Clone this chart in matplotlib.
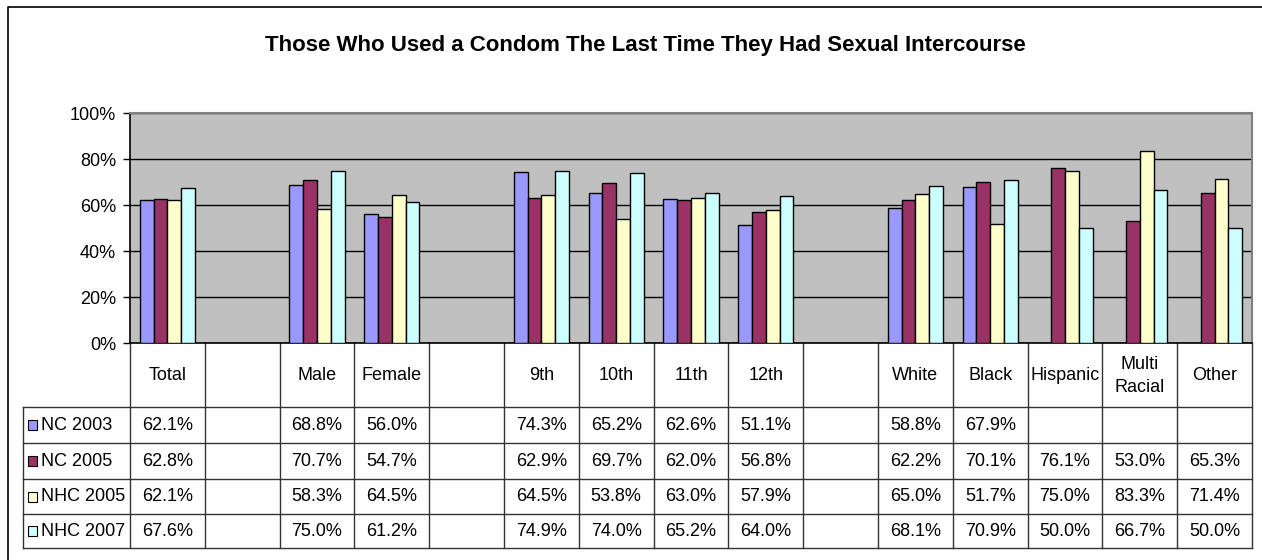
import numpy as np
import matplotlib
matplotlib.use("Agg")
import matplotlib.pyplot as plt
from matplotlib.ticker import PercentFormatter

plt.rcParams['font.family'] = ['Liberation Sans', 'DejaVu Sans']
plt.rcParams['font.size'] = 13

# Data (None = no value)
categories = ["Total", "", "Male", "Female", "", "9th", "10th", "11th", "12th", "",
              "White", "Black", "Hispanic", "Multi\nRacial", "Other"]
series_names = ["NC 2003", "NC 2005", "NHC 2005", "NHC 2007"]
nc_2003 = [62.1, None, 68.8, 56.0, None, 74.3, 65.2, 62.6, 51.1, None,
           58.8, 67.9, None, None, None]
nc_2005 = [62.8, None, 70.7, 54.7, None, 62.9, 69.7, 62.0, 56.8, None,
           62.2, 70.1, 76.1, 53.0, 65.3]
nhc_2005 = [62.1, None, 58.3, 64.5, None, 64.5, 53.8, 63.0, 57.9, None,
            65.0, 51.7, 75.0, 83.3, 71.4]
nhc_2007 = [67.6, None, 75.0, 61.2, None, 74.9, 74.0, 65.2, 64.0, None,
            68.1, 70.9, 50.0, 66.7, 50.0]
colors = ["#9999FF", "#993366", "#FFFFCC", "#CCFFFF"]
all_series = [nc_2003, nc_2005, nhc_2005, nhc_2007]

W, H = 1262, 560
fig = plt.figure(figsize=(W / 100, H / 100), dpi=100)

# pixel layout
px_left, px_right = 130, 1252
px_top, px_bottom = 113, 343
tbl_left = 23
row_lines = [407, 443, 479, 514, 548]


def fx(x):
    return x / W


def fy(y):
    return 1 - y / H


# overlay axes in pixel coordinates for frame, title and table
bg = fig.add_axes([0, 0, 1, 1])
bg.set_xlim(0, W)
bg.set_ylim(H, 0)
bg.axis("off")

# outer chart border
bg.plot([7.5, 7.5, W + 5], [H + 5, 7, 7], color="black", lw=1.2)

fig.text(fx(645), fy(46), "Those Who Used a Condom The Last Time They Had Sexual Intercourse",
         ha="center", va="center", fontsize=16, fontweight="bold")

# bar axes
ax = fig.add_axes([fx(px_left), fy(px_bottom), fx(px_right - px_left), (px_bottom - px_top) / H])
ax.set_facecolor("#C0C0C0")
n = len(categories)
x = np.arange(n) + 0.5
bw = 0.185
for k, (vals, c) in enumerate(zip(all_series, colors)):
    xs = [xi + (k - 1.5) * bw for xi, v in zip(x, vals) if v is not None]
    ys = [v / 100 for v in vals if v is not None]
    ax.bar(xs, ys, width=bw, color=c, edgecolor="black", linewidth=1, zorder=3)

ax.set_xlim(0, n)
ax.set_ylim(0, 1)
ax.set_yticks(np.arange(0, 1.01, 0.2))
ax.yaxis.set_major_formatter(PercentFormatter(1.0, decimals=0))
ax.tick_params(axis="y", direction="out", length=5, width=1, labelsize=13, pad=5)
ax.set_xticks([])
ax.grid(axis="y", color="black", lw=1, zorder=1)
for s in ["top", "right"]:
    ax.spines[s].set_color("#808080")
    ax.spines[s].set_linewidth(1.5)
for s in ["left", "bottom"]:
    ax.spines[s].set_color("black")
    ax.spines[s].set_linewidth(1.2)

# data table
colw = (px_right - px_left) / n
for i in range(n + 1):
    xv = px_left + i * colw
    bg.plot([xv, xv], [px_bottom, row_lines[-1]], color="#333333", lw=1)
bg.plot([tbl_left, tbl_left], [row_lines[0], row_lines[-1]], color="#333333", lw=1)
for yv in row_lines:
    bg.plot([tbl_left, px_right], [yv, yv], color="#333333", lw=1)

for i, cat in enumerate(categories):
    bg.text(px_left + (i + 0.5) * colw, (px_bottom + row_lines[0]) / 2 + 1, cat,
            ha="center", va="center", fontsize=13, linespacing=1.45)

for r, (name, vals, c) in enumerate(zip(series_names, all_series, colors)):
    yc = (row_lines[r] + row_lines[r + 1]) / 2
    bg.add_patch(plt.Rectangle((28, yc - 5), 9, 10, facecolor=c, edgecolor="black", lw=0.8))
    bg.text(41, yc, name, ha="left", va="center", fontsize=13)
    for i, v in enumerate(vals):
        if v is not None:
            bg.text(px_left + (i + 0.5) * colw, yc, f"{v:.1f}%",
                    ha="center", va="center", fontsize=13)

fig.savefig("out.png", dpi=100)
